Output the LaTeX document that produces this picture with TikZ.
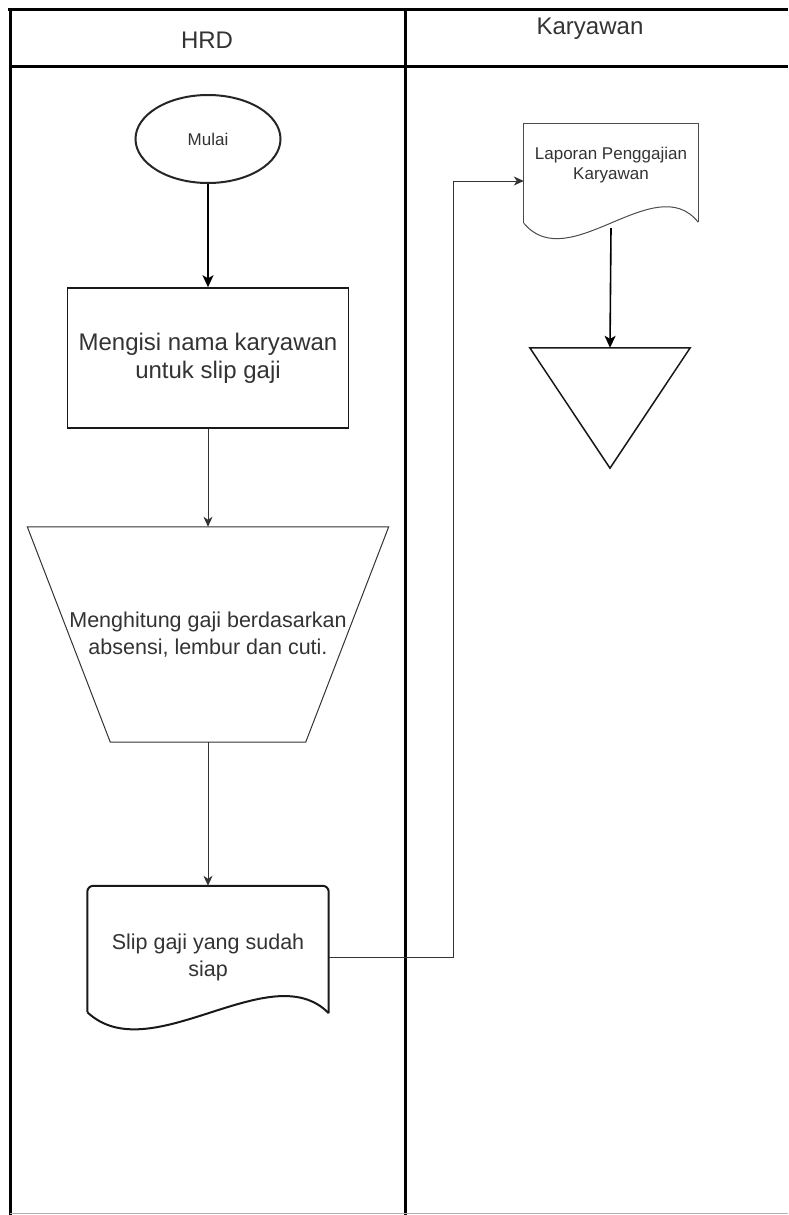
\documentclass[tikz,border=0pt]{standalone}
\usepackage{fontspec}
\setmainfont{Liberation Sans}
\usetikzlibrary{arrows.meta,calc,shapes.geometric}
\begin{document}
\begin{tikzpicture}[x=1pt,y=-1pt,
  txt/.style={text=black!80, align=center, inner sep=0pt},
  big/.style={font=\fontsize{24}{28}\selectfont},
  mid/.style={font=\fontsize{21.5}{26.5}\selectfont},
  small/.style={font=\fontsize{17}{20}\selectfont},
  lane/.style={line width=3pt, black},
  conn/.style={line width=1pt, black!80, -{Stealth[length=10pt,width=9pt,inset=3pt]}},
  connb/.style={line width=1.6pt, black, -{Stealth[length=12pt,width=11pt,inset=3pt]}},
  box/.style={minimum width=#1, inner sep=0pt},
]
\useasboundingbox (0,0) rectangle (788,1215);
\fill[white] (0,0) rectangle (788,1215);

% swimlane frame
\draw[lane] (8,10) -- (788,10);
\draw[lane] (10,8.5) -- (10,1215);
\draw[lane] (10,67) -- (788,67);
\draw[lane] (405,10) -- (405,1215);
\draw[black!30, line width=1pt] (10,1213.5) -- (788,1213.5);

\node[txt, big] (hrd) at (207,40) {HRD};
\node[txt, big] (kar) at (590,29) {Karyawan};

% HRD lane
\node[draw=black!85, line width=2pt, ellipse, minimum width=145, minimum height=88, txt, small] (mulai) at (208,139) {Mulai};

\node[draw=black!90, line width=1.5pt, minimum width=281, minimum height=140, txt, big] (isi) at (208,358) {Mengisi nama karyawan\\untuk slip gaji};

\node[txt, mid, minimum width=361, minimum height=215] (hit) at (208,634.5) {Menghitung gaji berdasarkan\\absensi, lembur dan cuti.};
\draw[line width=1pt, black!80] (hit.north west) -- (hit.north east) -- ($(hit.south east)+(-83,0)$) -- ($(hit.south west)+(83,0)$) -- cycle;

\node[txt, mid, minimum width=241, minimum height=143] (slip) at (208,957.5) {Slip gaji yang sudah\\siap};
\draw[line width=2pt, black!90, rounded corners=6pt] ($(slip.south west)+(0,-17)$) -- (slip.north west) -- (slip.north east) -- ($(slip.south east)+(0,-16)$);
\draw[line width=2pt, black!90] ($(slip.south east)+(0,-16)$) .. controls ($(slip.south east)+(-58,-75)$) and ($(slip.south west)+(63,42)$) .. ($(slip.south west)+(0,-17)$);

% Karyawan lane
\node[box=174, minimum height=114] (lap) at (611,181) {};
\node[txt, small] (lapt) at (611,165) {Laporan Penggajian\\Karyawan};
\draw[line width=1pt, black!70] ($(lap.south west)+(0,-15)$) -- (lap.north west) -- (lap.north east) -- ($(lap.south east)+(0,-16)$);
\draw[line width=1pt, black!70] ($(lap.south east)+(0,-16)$) .. controls ($(lap.south east)+(-43,-70)$) and ($(lap.south west)+(45,39)$) .. ($(lap.south west)+(0,-15)$);

\node[box=160, minimum height=120] (tri) at (610,408) {};
\draw[line width=1.5pt, black!90] (tri.north west) -- (tri.north east) -- (tri.south) -- cycle;

% connectors
\draw[connb] (mulai.south) -- (isi.north);
\draw[conn] (isi.south) -- (hit.north);
\draw[conn] (hit.south) -- (slip.north);
\coordinate (bend) at (453,181);
\draw[conn] (slip.east) -| (bend) -- (lap.west);
\draw[connb] ($(lap.south)+(0,-10)$) -- (tri.north);
\end{tikzpicture}
\end{document}
